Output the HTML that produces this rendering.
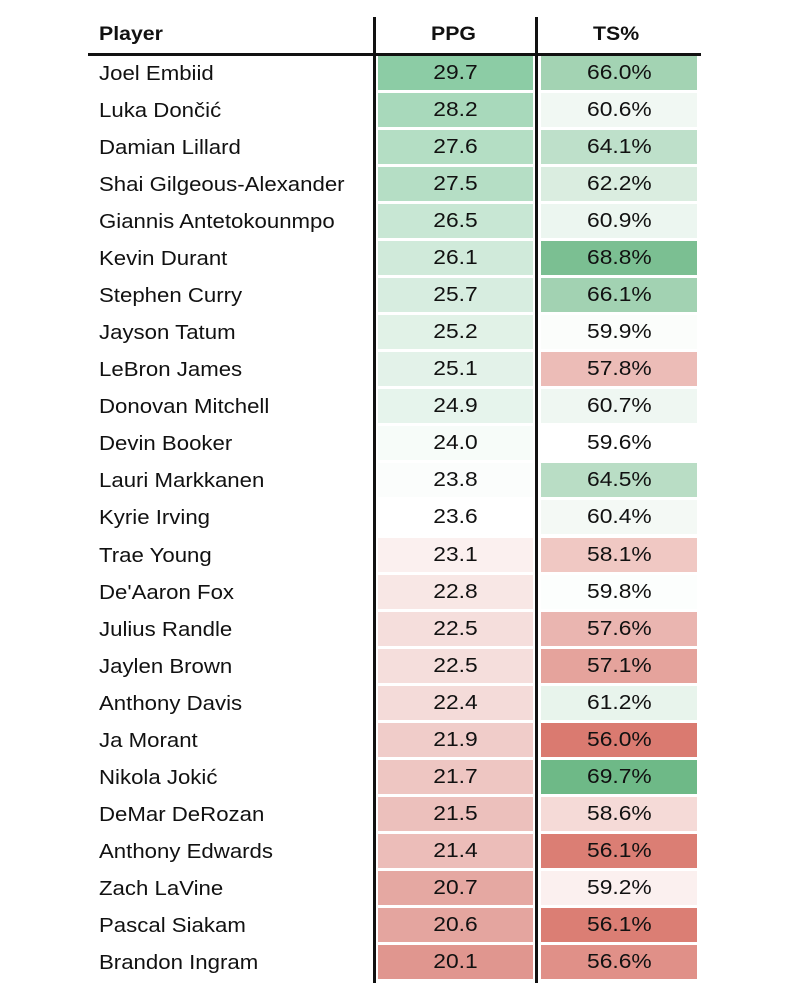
<!DOCTYPE html>
<html><head><meta charset="utf-8"><style>
body{margin:0;width:790px;height:998px;background:#fff;font-family:"Liberation Sans",sans-serif;color:#111;position:relative;overflow:hidden}
.h{position:absolute;top:24px;font-weight:bold;font-size:19px;transform:scaleX(1.12);transform-origin:left center}
.rule{position:absolute;left:88px;width:613px;top:53px;height:3px;background:#111}
.v{position:absolute;top:17px;height:966px;width:3px;background:#111}
.row{position:absolute;left:0;height:34px;width:790px}
.n{position:absolute;left:99px;top:7px;font-size:20px;transform:scaleX(1.11);transform-origin:left center;white-space:nowrap}
.c{position:absolute;top:0;height:34px;line-height:35px;text-align:center;font-size:20px}
.c i{font-style:normal;display:inline-block;transform:scaleX(1.14)}
.p{left:378px;width:155px}
.t{left:541px;width:156px}
</style></head><body>
<div class="h" style="left:99px">Player</div>
<div class="h" style="left:431px">PPG</div>
<div class="h" style="left:593px">TS%</div>
<div class="rule"></div>
<div class="v" style="left:373px"></div>
<div class="v" style="left:535px"></div>
<div id="rows">
<div class="row"><span class="n">Joel Embiid</span><span class="c p"><i>29.7</i></span><span class="c t"><i>66.0%</i></span></div>
<div class="row"><span class="n">Luka Dončić</span><span class="c p"><i>28.2</i></span><span class="c t"><i>60.6%</i></span></div>
<div class="row"><span class="n">Damian Lillard</span><span class="c p"><i>27.6</i></span><span class="c t"><i>64.1%</i></span></div>
<div class="row"><span class="n">Shai Gilgeous-Alexander</span><span class="c p"><i>27.5</i></span><span class="c t"><i>62.2%</i></span></div>
<div class="row"><span class="n">Giannis Antetokounmpo</span><span class="c p"><i>26.5</i></span><span class="c t"><i>60.9%</i></span></div>
<div class="row"><span class="n">Kevin Durant</span><span class="c p"><i>26.1</i></span><span class="c t"><i>68.8%</i></span></div>
<div class="row"><span class="n">Stephen Curry</span><span class="c p"><i>25.7</i></span><span class="c t"><i>66.1%</i></span></div>
<div class="row"><span class="n">Jayson Tatum</span><span class="c p"><i>25.2</i></span><span class="c t"><i>59.9%</i></span></div>
<div class="row"><span class="n">LeBron James</span><span class="c p"><i>25.1</i></span><span class="c t"><i>57.8%</i></span></div>
<div class="row"><span class="n">Donovan Mitchell</span><span class="c p"><i>24.9</i></span><span class="c t"><i>60.7%</i></span></div>
<div class="row"><span class="n">Devin Booker</span><span class="c p"><i>24.0</i></span><span class="c t"><i>59.6%</i></span></div>
<div class="row"><span class="n">Lauri Markkanen</span><span class="c p"><i>23.8</i></span><span class="c t"><i>64.5%</i></span></div>
<div class="row"><span class="n">Kyrie Irving</span><span class="c p"><i>23.6</i></span><span class="c t"><i>60.4%</i></span></div>
<div class="row"><span class="n">Trae Young</span><span class="c p"><i>23.1</i></span><span class="c t"><i>58.1%</i></span></div>
<div class="row"><span class="n">De'Aaron Fox</span><span class="c p"><i>22.8</i></span><span class="c t"><i>59.8%</i></span></div>
<div class="row"><span class="n">Julius Randle</span><span class="c p"><i>22.5</i></span><span class="c t"><i>57.6%</i></span></div>
<div class="row"><span class="n">Jaylen Brown</span><span class="c p"><i>22.5</i></span><span class="c t"><i>57.1%</i></span></div>
<div class="row"><span class="n">Anthony Davis</span><span class="c p"><i>22.4</i></span><span class="c t"><i>61.2%</i></span></div>
<div class="row"><span class="n">Ja Morant</span><span class="c p"><i>21.9</i></span><span class="c t"><i>56.0%</i></span></div>
<div class="row"><span class="n">Nikola Jokić</span><span class="c p"><i>21.7</i></span><span class="c t"><i>69.7%</i></span></div>
<div class="row"><span class="n">DeMar DeRozan</span><span class="c p"><i>21.5</i></span><span class="c t"><i>58.6%</i></span></div>
<div class="row"><span class="n">Anthony Edwards</span><span class="c p"><i>21.4</i></span><span class="c t"><i>56.1%</i></span></div>
<div class="row"><span class="n">Zach LaVine</span><span class="c p"><i>20.7</i></span><span class="c t"><i>59.2%</i></span></div>
<div class="row"><span class="n">Pascal Siakam</span><span class="c p"><i>20.6</i></span><span class="c t"><i>56.1%</i></span></div>
<div class="row"><span class="n">Brandon Ingram</span><span class="c p"><i>20.1</i></span><span class="c t"><i>56.6%</i></span></div>
</div>
<script>
function mix(a,b,f){return 'rgb('+a.map((v,i)=>Math.round(v+(b[i]-v)*f)).join(',')+')';}
var W=[255,255,255];
function col(v,mid,lo,hi,G,R){if(v>=mid)return mix(W,G,Math.min(1,(v-mid)/(hi-mid)));return mix(W,R,Math.min(1,(mid-v)/(mid-lo)));}
document.querySelectorAll('.row').forEach(function(r,i){
 r.style.top=(56+i*37.04)+'px';
 var p=r.querySelector('.p'),t=r.querySelector('.t');
 p.style.background=col(parseFloat(p.textContent),23.6,20.1,29.7,[140,204,165],[224,150,143]);
 t.style.background=col(parseFloat(t.textContent),59.6,56.0,69.7,[110,185,135],[218,122,112]);
});
</script>
</body></html>
